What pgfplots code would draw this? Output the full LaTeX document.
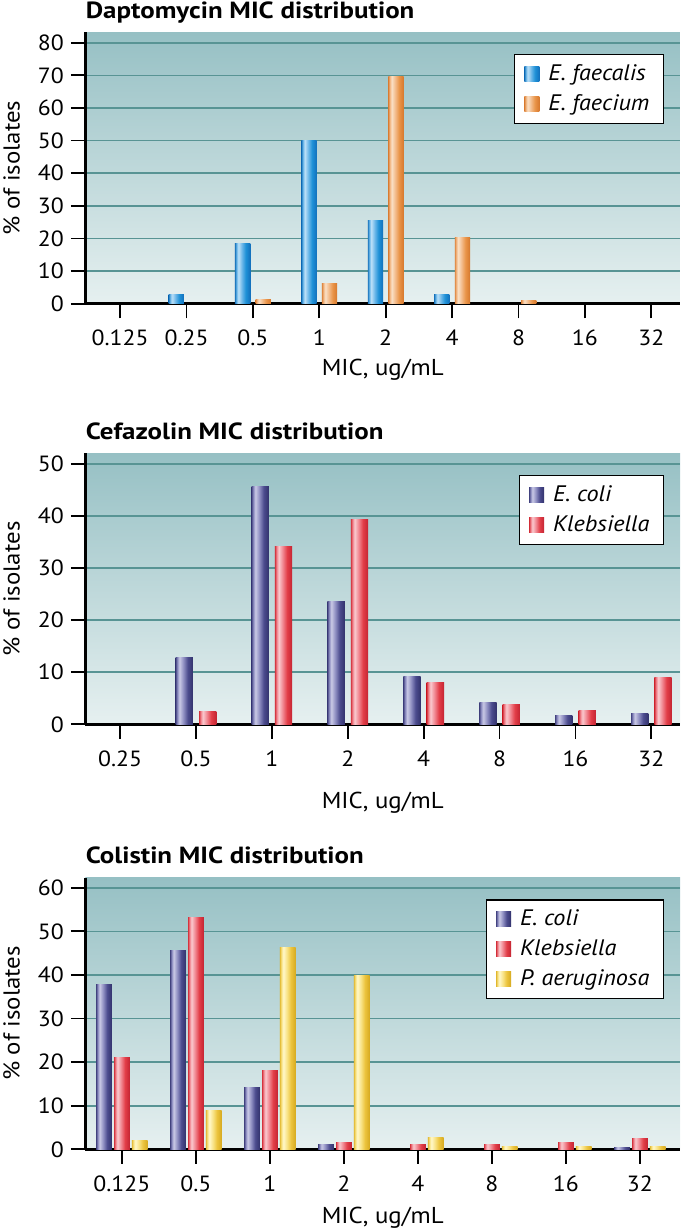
\documentclass[border=0pt]{standalone}
\usepackage{pgfplots}
\pgfplotsset{compat=1.18}
\usepackage{fontspec}
\setmainfont{PT Sans}[FakeStretch=1.08]
\newfontfamily\titlefont{PT Sans}[FakeStretch=1.15]

\definecolor{bgtop}{RGB}{150,192,196}
\definecolor{bgbot}{RGB}{230,240,240}
\definecolor{gridteal}{RGB}{88,148,148}

\definecolor{bluedark}{RGB}{30,120,190}
\definecolor{bluehi}{RGB}{190,225,248}
\definecolor{bluemid}{RGB}{105,182,232}
\definecolor{bluebase}{RGB}{30,145,215}
\definecolor{blueedge}{RGB}{18,112,188}

\definecolor{orgdark}{RGB}{222,135,65}
\definecolor{orghi}{RGB}{250,224,198}
\definecolor{orgmid}{RGB}{242,185,135}
\definecolor{orgbase}{RGB}{233,148,72}
\definecolor{orgedge}{RGB}{214,120,45}

\definecolor{navydark}{RGB}{72,72,132}
\definecolor{navyhi}{RGB}{202,202,230}
\definecolor{navymid}{RGB}{140,140,192}
\definecolor{navybase}{RGB}{76,76,142}
\definecolor{navyedge}{RGB}{50,50,108}

\definecolor{reddark}{RGB}{212,52,62}
\definecolor{redhi}{RGB}{250,202,207}
\definecolor{redmid}{RGB}{240,132,142}
\definecolor{redbase}{RGB}{226,62,72}
\definecolor{rededge}{RGB}{196,36,50}

\definecolor{yeldark}{RGB}{226,186,52}
\definecolor{yelhi}{RGB}{255,248,202}
\definecolor{yelmid}{RGB}{248,226,132}
\definecolor{yelbase}{RGB}{236,196,62}
\definecolor{yeledge}{RGB}{214,170,32}

\pgfdeclarehorizontalshading{bluebar}{100bp}{color(0bp)=(bluedark); color(25bp)=(bluedark); color(30bp)=(bluemid); color(36bp)=(bluehi); color(48bp)=(bluemid); color(60bp)=(bluebase); color(75bp)=(blueedge); color(100bp)=(blueedge)}
\pgfdeclarehorizontalshading{orgbar}{100bp}{color(0bp)=(orgdark); color(25bp)=(orgdark); color(30bp)=(orgmid); color(36bp)=(orghi); color(48bp)=(orgmid); color(60bp)=(orgbase); color(75bp)=(orgedge); color(100bp)=(orgedge)}
\pgfdeclarehorizontalshading{navybar}{100bp}{color(0bp)=(navydark); color(25bp)=(navydark); color(30bp)=(navymid); color(36bp)=(navyhi); color(48bp)=(navymid); color(60bp)=(navybase); color(75bp)=(navyedge); color(100bp)=(navyedge)}
\pgfdeclarehorizontalshading{redbar}{100bp}{color(0bp)=(reddark); color(25bp)=(reddark); color(30bp)=(redmid); color(36bp)=(redhi); color(48bp)=(redmid); color(60bp)=(redbase); color(75bp)=(rededge); color(100bp)=(rededge)}
\pgfdeclarehorizontalshading{yelbar}{100bp}{color(0bp)=(yeldark); color(25bp)=(yeldark); color(30bp)=(yelmid); color(36bp)=(yelhi); color(48bp)=(yelmid); color(60bp)=(yelbase); color(75bp)=(yeledge); color(100bp)=(yeledge)}

\pgfplotsset{
  micpanel/.style={
    scale only axis,
    width=297.3pt,
    anchor=south west,
    ymin=0,
    axis lines*=left,
    axis line style={line width=1.3pt, black, -},
    tick align=outside,
    major tick length=7.3pt,
    tick style={line width=0.9pt, black},
    ymajorgrids,
    grid style={color=gridteal, line width=0.8pt},
    axis background/.style={shade, top color=bgtop, bottom color=bgbot},
    /pgf/number format/assume math mode=true,
    ticklabel style={font=\fontsize{11}{13}\selectfont},
    xticklabel style={yshift=-2.2pt},
    label style={font=\fontsize{11.5}{13}\selectfont},
    title style={at={(axis description cs:0,1)}, anchor=base west, yshift=1pt, inner sep=0pt, font=\titlefont\bfseries\fontsize{11.7}{13}\selectfont},
    ylabel={\% of isolates},
    ylabel style={at={(axis description cs:-0.1108,0.5)}, anchor=base, rotate=0},
    xlabel={MIC, ug/mL},
    legend cell align=left,
    legend image code/.code={\path[##1, draw=none] (0pt,-3.75pt) rectangle (7.5pt,3.75pt);},
    legend style={at={(rel axis cs:0.973,0.92)}, anchor=north east, draw=black, line width=0.6pt, fill=white,
      font=\fontsize{11.2}{13}\selectfont\itshape, inner xsep=5pt, inner ysep=3pt, row sep=1.5pt,
      /tikz/every odd column/.append style={column sep=2.5pt}},
  },
  % panel 1 bar styles
  dapA/.style={ybar, bar width=0.23, bar shift=-0.155, draw=none, shade, shading=bluebar, forget plot},
  dapB/.style={ybar, bar width=0.23, bar shift=0.155, draw=none, shade, shading=orgbar, forget plot},
  % panel 2 bar styles
  cefA/.style={ybar, bar width=0.228, bar shift=-0.154, draw=none, shade, shading=navybar, forget plot},
  cefB/.style={ybar, bar width=0.228, bar shift=0.154, draw=none, shade, shading=redbar, forget plot},
  % panel 3 bar styles
  colA/.style={ybar, bar width=0.213, bar shift=-0.241, draw=none, shade, shading=navybar, forget plot},
  colB/.style={ybar, bar width=0.213, bar shift=0, draw=none, shade, shading=redbar, forget plot},
  colC/.style={ybar, bar width=0.213, bar shift=0.241, draw=none, shade, shading=yelbar, forget plot},
}

\begin{document}
\begin{tikzpicture}
\useasboundingbox (0,0) rectangle (340pt,-615pt);

% Panel 1: Daptomycin
\begin{axis}[micpanel,
  at={(42.7pt,-151.85pt)}, height=135.7pt,
  xmin=-0.523, xmax=8.432, ymax=83.2,
  ytick={0,10,...,80},
  xtick={0,...,8},
  xticklabels={0.125,0.25,0.5,1,2,4,8,16,32},
  title={Daptomycin MIC distribution},
  xlabel style={at={(axis description cs:0.5,0)}, anchor=base, yshift=-35.65pt},
]
% E. faecalis
\addplot[dapA] coordinates {(1,2.9)};
\addplot[dapA] coordinates {(2,18.5)};
\addplot[dapA] coordinates {(3,50)};
\addplot[dapA] coordinates {(4,25.4)};
\addplot[dapA] coordinates {(5,2.7)};
% E. faecium
\addplot[dapB] coordinates {(2,1.4)};
\addplot[dapB] coordinates {(3,6.2)};
\addplot[dapB] coordinates {(4,69.8)};
\addplot[dapB] coordinates {(5,20.3)};
\addplot[dapB] coordinates {(6,1.1)};
\addlegendimage{draw=none, shade, shading=bluebar}
\addlegendentry{E. faecalis}
\addlegendimage{draw=none, shade, shading=orgbar}
\addlegendentry{E. faecium}
\end{axis}

% Panel 2: Cefazolin
\begin{axis}[micpanel,
  at={(42.7pt,-362.15pt)}, height=135.5pt,
  xmin=-0.457, xmax=7.377, ymax=52.1,
  ytick={0,10,...,50},
  xtick={0,...,7},
  xticklabels={0.25,0.5,1,2,4,8,16,32},
  title={Cefazolin MIC distribution},
  xlabel style={at={(axis description cs:0.5,0)}, anchor=base, yshift=-42pt},
]
% E. coli
\addplot[cefA] coordinates {(1,12.9)};
\addplot[cefA] coordinates {(2,45.8)};
\addplot[cefA] coordinates {(3,23.6)};
\addplot[cefA] coordinates {(4,9.2)};
\addplot[cefA] coordinates {(5,4.2)};
\addplot[cefA] coordinates {(6,1.6)};
\addplot[cefA] coordinates {(7,2.0)};
% Klebsiella
\addplot[cefB] coordinates {(1,2.4)};
\addplot[cefB] coordinates {(2,34.1)};
\addplot[cefB] coordinates {(3,39.3)};
\addplot[cefB] coordinates {(4,8.0)};
\addplot[cefB] coordinates {(5,3.8)};
\addplot[cefB] coordinates {(6,2.75)};
\addplot[cefB] coordinates {(7,9.0)};
\addlegendimage{draw=none, shade, shading=navybar}
\addlegendentry{E. coli}
\addlegendimage{draw=none, shade, shading=redbar}
\addlegendentry{Klebsiella}
\end{axis}

% Panel 3: Colistin
\begin{axis}[micpanel,
  at={(42.7pt,-574.65pt)}, height=135.8pt,
  xmin=-0.493, xmax=7.542, ymax=62.3,
  ytick={0,10,...,60},
  xtick={0,...,7},
  xticklabels={0.125,0.5,1,2,4,8,16,32},
  title={Colistin MIC distribution},
  xlabel style={at={(axis description cs:0.5,0)}, anchor=base, yshift=-37pt},
]
% E. coli
\addplot[colA] coordinates {(0,37.8)};
\addplot[colA] coordinates {(1,45.5)};
\addplot[colA] coordinates {(2,14.2)};
\addplot[colA] coordinates {(3,1.0)};
\addplot[colA] coordinates {(7,0.5)};
% Klebsiella
\addplot[colB] coordinates {(0,21.0)};
\addplot[colB] coordinates {(1,53.1)};
\addplot[colB] coordinates {(2,18.0)};
\addplot[colB] coordinates {(3,1.45)};
\addplot[colB] coordinates {(4,1.0)};
\addplot[colB] coordinates {(5,1.0)};
\addplot[colB] coordinates {(6,1.6)};
\addplot[colB] coordinates {(7,2.5)};
% P. aeruginosa
\addplot[colC] coordinates {(0,2.1)};
\addplot[colC] coordinates {(1,8.9)};
\addplot[colC] coordinates {(2,46.2)};
\addplot[colC] coordinates {(3,39.8)};
\addplot[colC] coordinates {(4,2.7)};
\addplot[colC] coordinates {(5,0.7)};
\addplot[colC] coordinates {(6,0.7)};
\addplot[colC] coordinates {(7,0.6)};
\addlegendimage{draw=none, shade, shading=navybar}
\addlegendentry{E. coli}
\addlegendimage{draw=none, shade, shading=redbar}
\addlegendentry{Klebsiella}
\addlegendimage{draw=none, shade, shading=yelbar}
\addlegendentry{P. aeruginosa}
\end{axis}
\end{tikzpicture}
\end{document}
